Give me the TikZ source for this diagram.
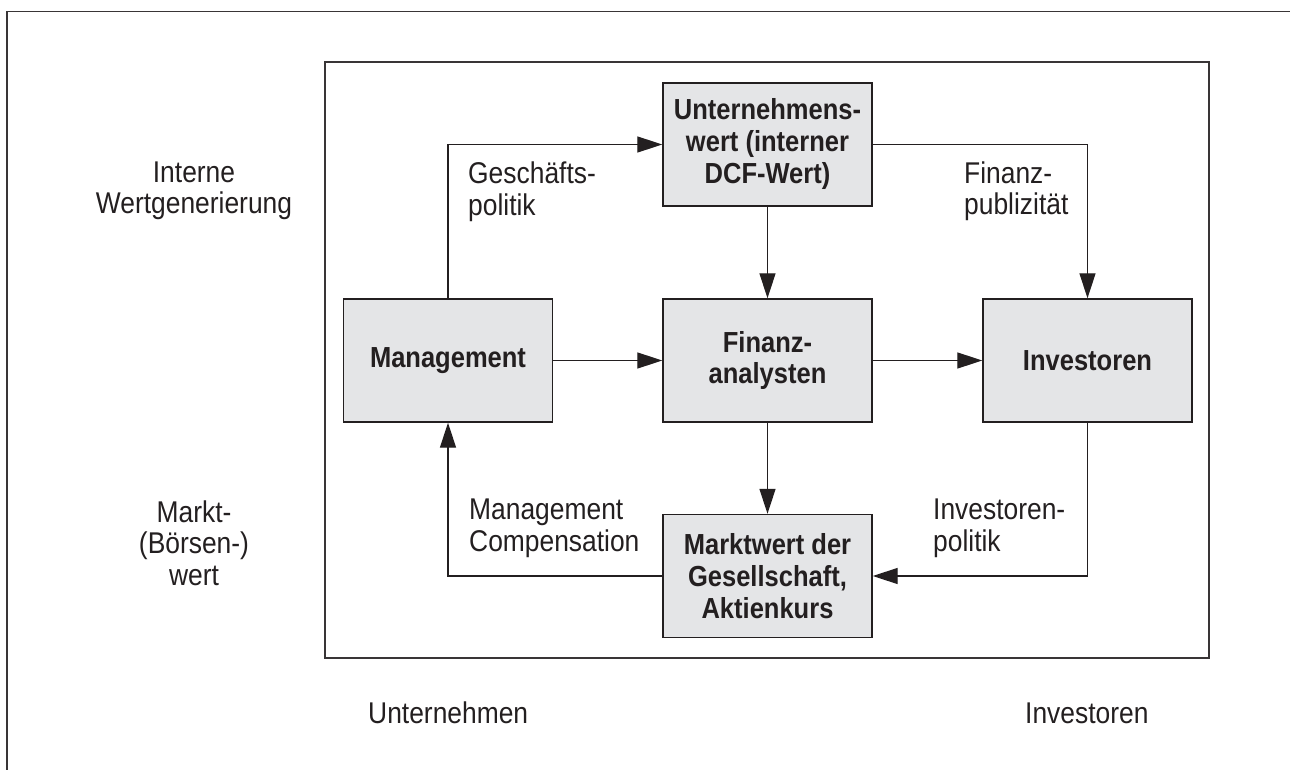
\documentclass[tikz,border=0pt]{standalone}
\usepackage{fontspec}
\setmainfont[FakeStretch=0.88]{Liberation Sans}
\usetikzlibrary{arrows.meta}
\definecolor{ink}{HTML}{231F20}
\definecolor{boxfill}{HTML}{E4E5E7}
\begin{document}
\begin{tikzpicture}[x=1pt,y=-1pt,
  every node/.style={inner sep=0pt, text=ink},
  lbl/.style={font=\fontsize{30}{31.5}\selectfont},
  boxnode/.style={draw=ink, line width=1.4pt, fill=boxfill, minimum width=209pt, minimum height=123pt, align=center, font=\bfseries\fontsize{29}{32}\selectfont},
  conn/.style={draw=ink, line width=1.3pt, -{Triangle[length=25pt,width=16pt]}},
  frame/.style={draw=ink!90, line width=1.8pt}]
\useasboundingbox (0,0) rectangle (1290,770);
% frames
\coordinate (o1) at (7,770);
\coordinate (o2) at (7,11.5);
\coordinate (o3) at (1290,11.5);
\draw[frame] (o1) -- (o2) -- (o3);
\coordinate (f1) at (325,62);
\coordinate (f2) at (1209,658);
\draw[frame] (f1) rectangle (f2);
% boxes
\node[boxnode] (uw) at (767.5,144.5) {Unternehmens-\\wert (interner\\DCF-Wert)};
\node[boxnode] (mg) at (448,360.5) {Management};
\node[boxnode] (fa) at (767.5,360.5) {Finanz-\\analysten};
\node[boxnode] (inv) at (1087.5,360.5) {Investoren};
\node[boxnode] (mw) at (767.5,576) {Marktwert der\\Gesellschaft,\\Aktienkurs};
% connectors
\draw[conn] (mg.north) |- (uw.west);
\draw[conn] (uw.east) -| (inv.north);
\draw[conn] (uw.south) -- (fa.north);
\draw[conn] (mg.east) -- (fa.west);
\draw[conn] (fa.east) -- (inv.west);
\draw[conn] (fa.south) -- (mw.north);
\draw[conn] (inv.south) |- (mw.east);
\draw[conn] (mw.west) -| (mg.south);
% labels
\node[lbl, align=left, anchor=west] (gp) at (468,191.6) {Geschäfts-\\politik};
\node[lbl, align=left, anchor=west] (fp) at (964,191) {Finanz-\\publizität};
\node[lbl, align=left, anchor=west] (ip) at (933,528.4) {Investoren-\\politik};
\node[lbl, align=left, anchor=west] (mc) at (469,528.4) {Management\\Compensation};
\node[lbl, align=center] (iw) at (194,191) {Interne\\Wertgenerierung};
\node[lbl, align=center] (mb) at (194,542.8) {Markt-\\(Börsen-)\\wert};
\node[lbl, anchor=base west] (un) at (368,723) {Unternehmen};
\node[lbl, anchor=base west] (in) at (1025,723) {Investoren};
\end{tikzpicture}
\end{document}
